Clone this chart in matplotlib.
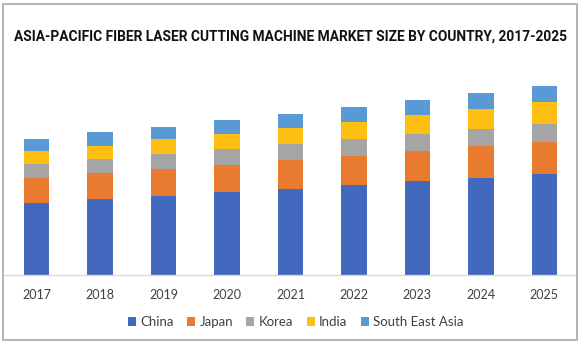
import matplotlib
matplotlib.use("Agg")
import matplotlib.pyplot as plt
from matplotlib.patches import Rectangle
import numpy as np

years = ["2017", "2018", "2019", "2020", "2021", "2022", "2023", "2024", "2025"]
countries = ["China", "Japan", "Korea", "India", "South East Asia"]
colors = ["#4269BE", "#E97B31", "#A5A5A5", "#FDBF12", "#5A9AD4"]

china = [72.0, 76.0, 79.0, 83.3, 86.0, 89.7, 94.0, 96.7, 100.7]
japan = [25.0, 26.0, 27.0, 26.4, 28.7, 29.0, 29.7, 32.0, 32.0]
korea = [14.0, 14.3, 15.0, 16.6, 16.6, 17.3, 17.3, 17.3, 18.6]
india = [13.0, 13.0, 14.7, 15.0, 16.0, 17.3, 19.3, 20.3, 22.0]
sea = [11.7, 13.4, 12.6, 14.0, 14.0, 14.7, 14.7, 16.0, 16.0]

series = [china, japan, korea, india, sea]

fig = plt.figure(figsize=(5.8, 3.46), dpi=100)
ax = fig.add_axes([5 / 580, 1 - 275 / 346, 571 / 580, 215 / 346])

x = np.arange(len(years))
bottom = np.zeros(len(years))
for name, vals, c in zip(countries, series, colors):
    ax.bar(x, vals, width=0.4, bottom=bottom, color=c, label=name)
    bottom += np.array(vals)

ax.set_xlim(-0.5, len(years) - 0.5)
ax.set_ylim(0, 215)
for s in ["top", "right", "left"]:
    ax.spines[s].set_visible(False)
ax.spines["bottom"].set_color("#D9D9D9")
ax.spines["bottom"].set_linewidth(1.0)
ax.set_yticks([])
ax.set_xticks(x)
ax.set_xticklabels(years, fontfamily="Lato", fontsize=9, color="#404040")
ax.tick_params(axis="x", length=0, pad=10)

fig.text(0.5, 1 - 37 / 346, "ASIA-PACIFIC FIBER LASER CUTTING MACHINE MARKET SIZE BY COUNTRY, 2017-2025",
         ha="center", va="center", fontfamily="Roboto", fontweight="bold", fontsize=9.9, color="#111111")

leg = fig.legend(loc="center", bbox_to_anchor=(0.51, 1 - 322 / 346), ncol=5, frameon=False,
                 prop={"family": "Lato", "size": 9.5}, handlelength=0.6, handleheight=0.6,
                 handletextpad=0.35, columnspacing=1.0, labelcolor="#404040")

# thin gray frame around the whole chart
fig.patches.append(Rectangle((3 / 580, 1 - 340 / 346), 574 / 580, 336 / 346,
                             transform=fig.transFigure, fill=False, edgecolor="#A6A6A6", linewidth=1.2))

fig.savefig("out.png", dpi=100)
